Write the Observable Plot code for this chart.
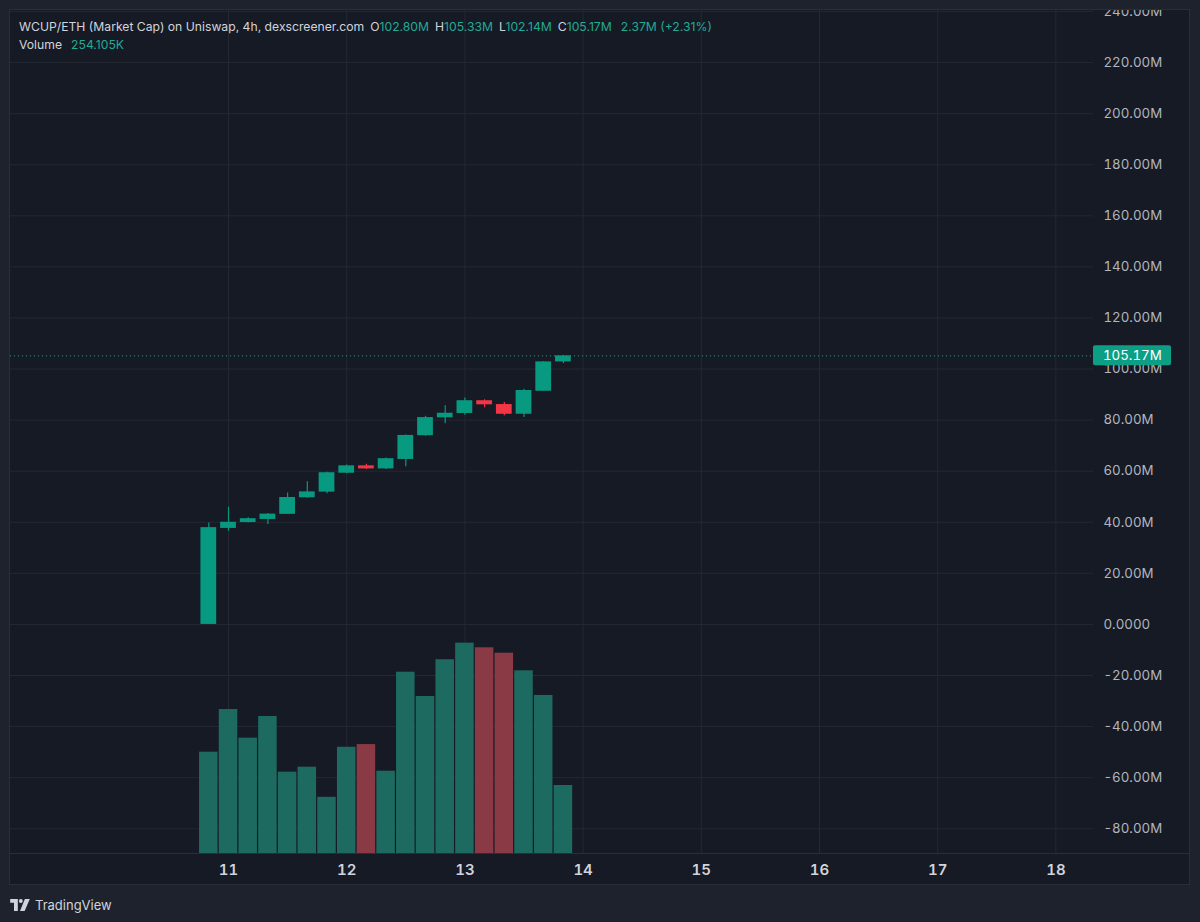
<!DOCTYPE html>
<html>
<head>
<meta charset="utf-8">
<script src="https://cdn.jsdelivr.net/npm/d3@7"></script>
<script src="https://cdn.jsdelivr.net/npm/@observablehq/plot@0.6"></script>
<style>
  html, body { margin: 0; padding: 0; background: #1e222d; width: 1200px; height: 922px; overflow: hidden;
    font-family: Inter, "Noto Sans", "Liberation Sans", sans-serif; }
  #panel { position: absolute; left: 10px; top: 10px; width: 1179px; height: 874px; background: #161a25;
    outline: 1px solid #2a2e39; overflow: hidden; }
  #panel svg { position: absolute; left: 0; top: 0; font-variant-numeric: tabular-nums; }
  #hdr { position: absolute; left: 9px; top: 8px; font-size: 12.2px; line-height: 18px; color: #d1d4dc; pointer-events: none; }
  #hdr .v { color: #22ab94; }
  #hdr .gap { margin-left: 6px; }
  #hdr .gap2 { margin-left: 9px; }
  #brand { position: absolute; left: 10px; top: 895px; height: 20px; display: flex; align-items: center;
    color: #d1d4dc; font-size: 13px; }
  #brand svg { margin-right: 5px; }
</style>
</head>
<body>
<div id="panel"></div>
<div id="brand">
  <svg width="20" height="12" viewBox="0 0 36 22"><path fill="#d1d4dc" d="M0 0h14v22H7V7H0z"/><circle fill="#d1d4dc" cx="19.5" cy="3.6" r="3.6"/><path fill="#d1d4dc" d="M27 0h9l-9.5 22H18z"/></svg>
  <span>TradingView</span>
</div>
<script>
// ---- data (4h candles, market cap in millions) ----
const times = [
  "2022-11-10T20:00Z", "2022-11-11T00:00Z", "2022-11-11T04:00Z", "2022-11-11T08:00Z", "2022-11-11T12:00Z",
  "2022-11-11T16:00Z", "2022-11-11T20:00Z", "2022-11-12T00:00Z", "2022-11-12T04:00Z", "2022-11-12T08:00Z",
  "2022-11-12T12:00Z", "2022-11-12T16:00Z", "2022-11-12T20:00Z", "2022-11-13T00:00Z", "2022-11-13T04:00Z",
  "2022-11-13T08:00Z", "2022-11-13T12:00Z", "2022-11-13T16:00Z", "2022-11-13T20:00Z"
];
const openM  = [0.0, 37.6, 39.9, 41.1, 43.1, 49.6, 51.8, 59.2, 62.1, 60.9, 64.6, 73.9, 80.9, 82.6, 87.6, 86.1, 82.3, 91.3, 102.80];
const highM  = [39.7, 45.9, 41.8, 43.4, 51.5, 55.9, 59.6, 62.4, 62.7, 65.2, 74.2, 81.5, 85.6, 88.7, 88.0, 86.9, 92.1, 103.0, 105.33];
const lowM   = [0.0, 36.5, 39.7, 39.1, 43.0, 49.4, 51.2, 59.0, 60.7, 60.7, 61.7, 73.7, 78.6, 81.9, 84.8, 81.7, 81.0, 91.2, 102.14];
const closeM = [37.9, 40.0, 41.4, 43.2, 49.7, 51.9, 59.4, 62.1, 60.9, 64.9, 74.0, 81.0, 82.7, 87.6, 86.0, 82.3, 91.6, 102.8, 105.17];
const volumeK = [378.6, 538, 431, 512, 304, 322.5, 210, 397, 407, 307.5, 677.5, 586.7, 724, 786, 768.7, 748.5, 682.7, 590.5, 254.105];

const priceTicks = [-80, -60, -40, -20, 0, 20, 40, 60, 80, 100, 120, 140, 160, 180, 200, 220, 240];
const dayTicks = ["2022-11-11", "2022-11-12", "2022-11-13", "2022-11-14", "2022-11-15", "2022-11-16", "2022-11-17", "2022-11-18"];
const xDomain = ["2022-11-09T03:44Z", "2022-11-18T07:38Z"];
const yDomain = [-89.7, 240.4];
const volDomain = [0, 3150];

const title = "WCUP/ETH (Market Cap) on Uniswap, 4h, dexscreener.com";

// ---- build table ----
const HOUR = 3600e3;
const candles = times.map((t, i) => ({
  t: new Date(t), open: openM[i], high: highM[i], low: lowM[i], close: closeM[i], vol: volumeK[i],
  up: closeM[i] >= openM[i]
}));
const last = candles[candles.length - 1];

const GREEN = "#089981", RED = "#f23645";
const VGREEN = "#1d6a61", VRED = "#8a3a45";
const W = 1179, H = 874, MR = 96, MB = 31;
const AXFONT = 13.3;

const fmtPrice = d => d === 0 ? "0.0000" : (d < 0 ? "-" : "") + Math.abs(d).toFixed(2) + "M";

function lastPriceLabel(index, scales, values, dim) {
  const y = scales.y(last.close);
  const x0 = dim.width - dim.marginRight;
  const g = d3.create("svg:g");
  g.append("rect").attr("x", x0).attr("y", y - 10).attr("width", 78).attr("height", 20).attr("rx", 2).attr("fill", "#0d9f85");
  g.append("text").attr("x", x0 + 10).attr("y", y).attr("dy", "0.36em").attr("fill", "#ffffff")
    .attr("text-anchor", "start").attr("font-size", AXFONT).text(fmtPrice(last.close));
  return g.node();
}
function bottomSeparator(index, scales, values, dim) {
  const y = dim.height - dim.marginBottom + 0.5;
  return d3.create("svg:line").attr("x1", 0).attr("x2", dim.width).attr("y1", y).attr("y2", y)
    .attr("stroke", "#2a2e39").node();
}

const main = Plot.plot({
  width: W, height: H,
  marginLeft: 0, marginRight: MR, marginTop: 0, marginBottom: MB,
  style: { background: "transparent", color: "#b2b5be", fontFamily: "Inter, 'Noto Sans', sans-serif", overflow: "hidden" },
  x: { type: "utc", domain: xDomain.map(d => new Date(d)), axis: null, label: null },
  y: { domain: yDomain, axis: null, label: null },
  marks: [
    Plot.ruleY(priceTicks, { stroke: "#242833", strokeOpacity: 1 }),
    Plot.ruleX(dayTicks.map(d => new Date(d)), { stroke: "#242833", strokeOpacity: 1 }),
    bottomSeparator,
    Plot.axisY(priceTicks, { anchor: "right", tickSize: 0, tickPadding: 10, tickFormat: fmtPrice, fontSize: AXFONT, fill: "#b2b5be", label: null }),
    Plot.axisX(dayTicks.map(d => new Date(d)), { anchor: "bottom", tickSize: 0, tickPadding: 11, tickFormat: d3.utcFormat("%-d"),
      fontSize: 15, fontWeight: 600, fill: "#d1d4dc", label: null }),
    Plot.ruleY([last.close], { stroke: "#22ab94", strokeDasharray: "1,3", strokeOpacity: 0.9 }),
    Plot.ruleX(candles, { x: "t", y1: "low", y2: "high", stroke: d => d.up ? GREEN : RED, strokeWidth: 1.2 }),
    Plot.rect(candles, {
      x1: d => new Date(+d.t - 1.6 * HOUR), x2: d => new Date(+d.t + 1.6 * HOUR),
      y1: "open", y2: "close", fill: d => d.up ? GREEN : RED
    }),
    lastPriceLabel
  ]
});

const vol = Plot.plot({
  width: W, height: H,
  marginLeft: 0, marginRight: MR, marginTop: 0, marginBottom: MB,
  style: { background: "transparent", overflow: "hidden" },
  x: { type: "utc", domain: xDomain.map(d => new Date(d)), axis: null },
  y: { domain: volDomain, axis: null },
  marks: [
    Plot.rect(candles, {
      x1: d => new Date(+d.t - 1.88 * HOUR), x2: d => new Date(+d.t + 1.88 * HOUR),
      y1: 0, y2: "vol", fill: d => d.up ? VGREEN : VRED
    })
  ]
});

const panel = document.getElementById("panel");
panel.appendChild(main);
panel.appendChild(vol);

// header legend from data
const chg = last.close - last.open;
const pct = chg / last.open * 100;
const hdr = document.createElement("div");
hdr.id = "hdr";
hdr.innerHTML =
  `<div>${title}<span class="gap">O<span class="v">${last.open.toFixed(2)}M</span></span>` +
  `<span class="gap">H<span class="v">${last.high.toFixed(2)}M</span></span>` +
  `<span class="gap">L<span class="v">${last.low.toFixed(2)}M</span></span>` +
  `<span class="gap">C<span class="v">${last.close.toFixed(2)}M</span></span>` +
  `<span class="gap2 v">${chg.toFixed(2)}M (${chg >= 0 ? "+" : ""}${pct.toFixed(2)}%)</span></div>` +
  `<div>Volume<span class="gap2 v">${last.vol.toFixed(3)}K</span></div>`;
panel.appendChild(hdr);
</script>
</body>
</html>
